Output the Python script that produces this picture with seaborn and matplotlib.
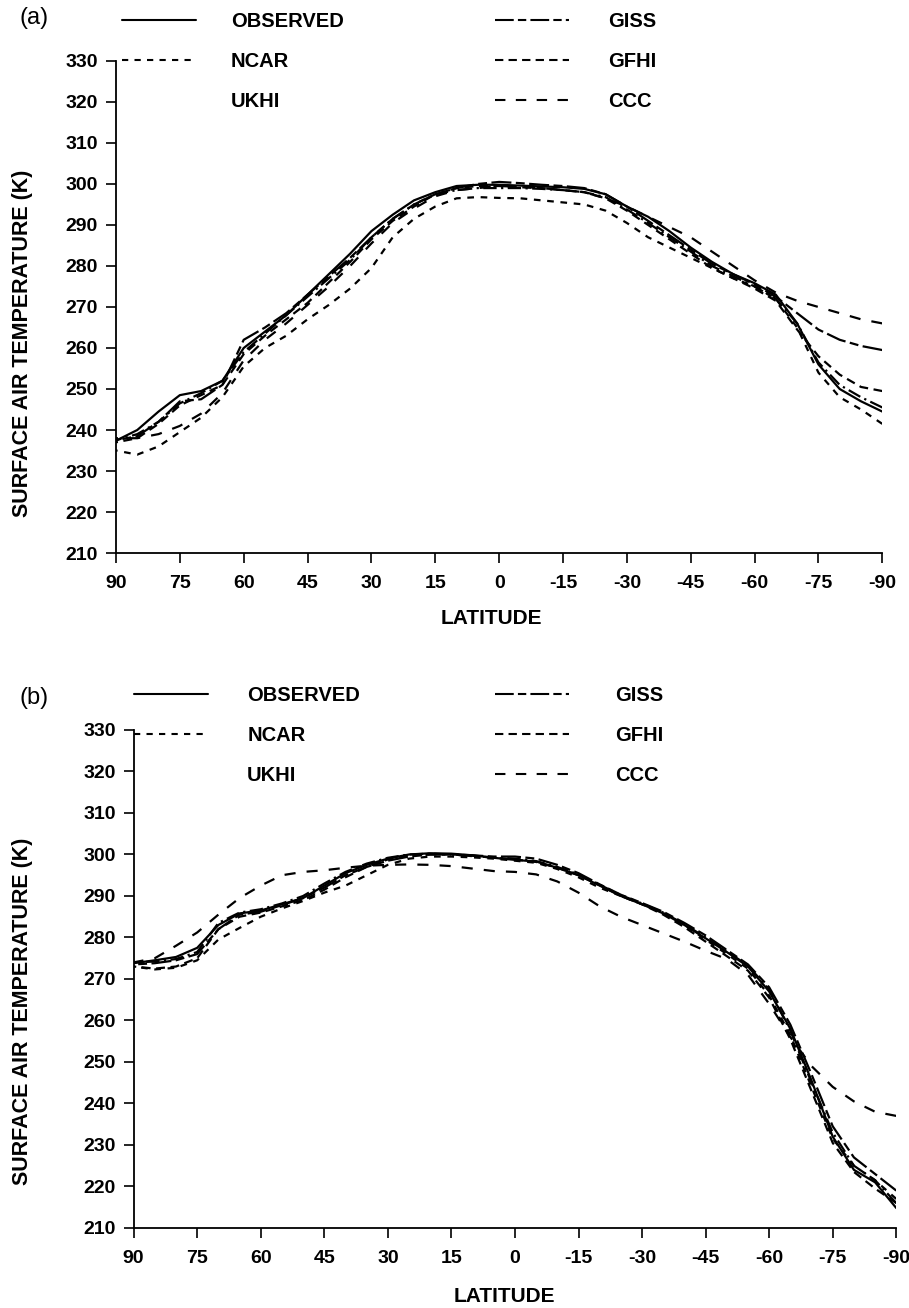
import seaborn as sns
import matplotlib.pyplot as plt
import pandas as pd
from matplotlib.lines import Line2D

lat = [90, 85, 80, 75, 70, 65, 60, 55, 50, 45, 40, 35, 30, 25, 20, 15, 10, 5, 0,
       -5, -10, -15, -20, -25, -30, -35, -40, -45, -50, -55, -60, -65, -70, -75, -80, -85, -90]

models = ['OBSERVED', 'NCAR', 'UKHI', 'GISS', 'GFHI', 'CCC']

# panel (a)
obs_a = [237.4, 240, 244.5, 248.5, 249.5, 252, 260, 264, 268, 273, 278, 283, 288.5, 292.5, 296, 298,
         299.5, 299.8, 299.8, 299.6, 299.4, 299.2, 298.8, 297.5, 294.5, 292, 288.5, 284.5, 281, 278,
         275.8, 273, 266, 256, 250, 247, 244.5]
ncar_a = [235, 234, 236, 239.5, 243, 248, 255.5, 260, 263, 267, 270.5, 274.5, 279.5, 287, 291.5, 294.5,
          296.5, 296.8, 296.6, 296.5, 296, 295.5, 295, 293.5, 290.5, 287, 284.5, 282, 279.5, 277,
          275, 272, 265, 254, 248, 245, 241.5]
ukhi_a = [237.5, 239, 242, 246.5, 249, 252, 259, 263.5, 268, 272.5, 277, 281.5, 287, 291.5, 295, 297.5,
          298.5, 299, 299, 299, 298.8, 298.5, 298, 296.8, 293.8, 290.5, 287, 283.5, 280, 277.5,
          275, 272, 266, 256.5, 251, 248, 245.5]
giss_a = [237.5, 238.5, 242, 247, 247.5, 251, 262, 265, 268.5, 273, 277.5, 282, 287, 291.5, 295, 297.5,
          299, 300, 300.5, 300.2, 299.8, 299.5, 299, 297.5, 294.5, 291, 287.5, 284, 280.5, 278,
          275.5, 272.5, 268.5, 264.5, 262, 260.5, 259.5]
gfhi_a = [237, 238, 241.5, 246, 248.5, 251, 258.5, 263, 267, 271, 276, 281, 286.5, 291, 294.5, 297.5,
          299, 299.5, 299.5, 299.2, 299, 298.5, 298, 296.5, 293.5, 290, 286.5, 283, 279.5, 277,
          274.5, 271.5, 264.5, 258, 253.5, 250.5, 249.5]
ccc_a = [238, 238, 239, 241, 244, 249, 257, 262, 266, 270.5, 275, 280, 285.5, 290.5, 294, 297,
         298.5, 299, 299.5, 299.3, 299, 298.5, 298, 296.5, 294.5, 292, 289.5, 287, 283.5, 280,
         276.5, 273.5, 271.5, 270, 268.5, 267, 266]

# panel (b)
obs_b = [273.8, 274.5, 275.3, 277.5, 283, 285.8, 286.5, 288, 289.5, 292.5, 295.5, 297.5, 299, 300, 300.3,
         300.2, 299.8, 299.2, 298.7, 298.3, 296.8, 295, 292.5, 290, 288, 285.8, 283, 279.8, 276.5,
         273, 267, 258, 245.5, 232, 224, 221, 214.8]
ncar_b = [273, 272.3, 272.7, 274.5, 279.5, 282.3, 285, 287, 288.8, 290.8, 292.5, 295, 297.5, 299, 299.5,
          299.5, 299.3, 299, 298.5, 298, 296.5, 294.5, 292, 290, 288, 286, 283, 279.5, 276,
          272.5, 266, 256.5, 244, 231.5, 225, 221.5, 217]
ukhi_b = [274, 274.2, 274.8, 276.5, 283.5, 286, 286.8, 288.2, 290, 293, 295.8, 297.8, 299.2, 300, 300.2,
          300, 299.6, 299.3, 299, 298.4, 297, 295.2, 292.7, 290.2, 288.2, 286, 283.2, 280, 276.7,
          273.2, 267.5, 257.5, 245, 233, 225, 221.5, 216]
giss_b = [273.5, 273.8, 274.5, 276, 282, 285.5, 286.2, 287.8, 289.5, 292, 295, 297, 298.5, 299.5, 300,
          300, 299.8, 299.5, 299.5, 299, 297.5, 295.5, 292.8, 290.3, 288.3, 286.2, 283.5, 280.5, 277,
          273.5, 268, 259, 247, 234.5, 227, 223, 219]
gfhi_b = [273, 272.5, 273, 275, 282, 285, 286, 287.5, 289, 291.5, 294.5, 297, 298.8, 299.8, 300,
          300, 299.7, 299.2, 298.8, 298.2, 296.8, 295, 292.6, 290, 288, 285.5, 282.5, 279, 275.5,
          272, 265.5, 255.5, 243, 230.5, 223.5, 219.5, 216]
ccc_b = [274, 275, 278, 281.2, 285.5, 289.5, 292.5, 295, 295.8, 296.2, 296.8, 297.3, 297.5, 297.6, 297.5,
         297.2, 296.6, 296, 295.8, 295.2, 293.5, 290.8, 287.5, 285, 283, 281, 279, 276.8, 274.8,
         271, 264, 256, 249, 244, 240.5, 238, 237]

series_a = [obs_a, ncar_a, ukhi_a, giss_a, gfhi_a, ccc_a]
series_b = [obs_b, ncar_b, ukhi_b, giss_b, gfhi_b, ccc_b]

dash_styles = {
    'OBSERVED': '',
    'NCAR': (3, 3),
    'UKHI': (6, 2, 1, 2),
    'GISS': (9, 2, 4, 2),
    'GFHI': (4, 2.5),
    'CCC': (5, 5),
}


def long_frame(series):
    rows = []
    for name, vals in zip(models, series):
        for la, v in zip(lat, vals):
            rows.append({'lat': la, 'temp': v, 'model': name})
    return pd.DataFrame(rows)


sns.set_style('ticks')
plt.rcParams['font.family'] = ['Liberation Sans', 'DejaVu Sans']
plt.rcParams['font.weight'] = 'bold'
for key in ['text.color', 'axes.labelcolor', 'xtick.color', 'ytick.color', 'axes.edgecolor']:
    plt.rcParams[key] = 'black'

fig = plt.figure(figsize=(9.09, 13.08), dpi=100)
ax_a = fig.add_axes([0.1276, 0.5772, 0.843, 0.3762])
ax_b = fig.add_axes([0.147, 0.0612, 0.839, 0.3807])


def draw_panel(ax, series, rows_top, col1_x, col2_x, pad1, pad2, ylab, xlab):
    df = long_frame(series)
    sns.lineplot(data=df, x='lat', y='temp', style='model', style_order=models,
                 dashes=dash_styles, color='black', linewidth=1.6, ax=ax,
                 legend=False, sort=True, estimator=None)
    ax.set_xlim(90, -90)
    ax.set_ylim(210, 330)
    ax.set_xticks(range(90, -91, -15))
    ax.set_xticklabels([str(v) for v in range(90, -91, -15)])
    ax.set_yticks(range(210, 331, 10))
    sns.despine(ax=ax)
    for s in ['left', 'bottom']:
        ax.spines[s].set_linewidth(1.3)
    ax.tick_params(axis='both', direction='out', length=7, width=1.2, labelsize=14)
    ax.tick_params(axis='x', pad=9)
    ax.tick_params(axis='y', pad=6)
    ax.set_xlabel('LATITUDE', fontsize=15, fontweight='bold')
    ax.set_ylabel('SURFACE AIR TEMPERATURE (K)', fontsize=15.5, fontweight='bold')
    ax.xaxis.set_label_coords(*xlab)
    ax.yaxis.set_label_coords(*ylab)

    handles = [Line2D([], [], color='black', linewidth=1.5, linestyle='-' if dash_styles[m] == ''
                      else (0, dash_styles[m])) for m in models]
    # UKHI sample did not print in the original legend
    handles[2] = Line2D([], [], color='white', linewidth=0)
    common = dict(frameon=False, handlelength=3.65, labelspacing=1.05,
                  borderpad=0, borderaxespad=0, prop={'size': 14.5, 'weight': 'bold'},
                  loc='upper left')
    leg1 = ax.legend(handles[:3], models[:3], bbox_to_anchor=(col1_x, rows_top),
                     handletextpad=pad1, **common)
    ax.add_artist(leg1)
    ax.legend(handles[3:], models[3:], bbox_to_anchor=(col2_x, rows_top),
              handletextpad=pad2, **common)


draw_panel(ax_a, series_a, 1.10, 0.008, 0.495, 1.75, 1.95, (-0.108, 0.427), (0.49, -0.114))
draw_panel(ax_b, series_b, 1.088, 0.001, 0.474, 1.95, 2.3, (-0.1325, 0.435), (0.486, -0.118))

fig.text(0.022, 0.986, '(a)', fontsize=17, fontweight='normal', va='center')
fig.text(0.022, 0.466, '(b)', fontsize=17, fontweight='normal', va='center')

fig.savefig('out.png', dpi=100, facecolor='white')
